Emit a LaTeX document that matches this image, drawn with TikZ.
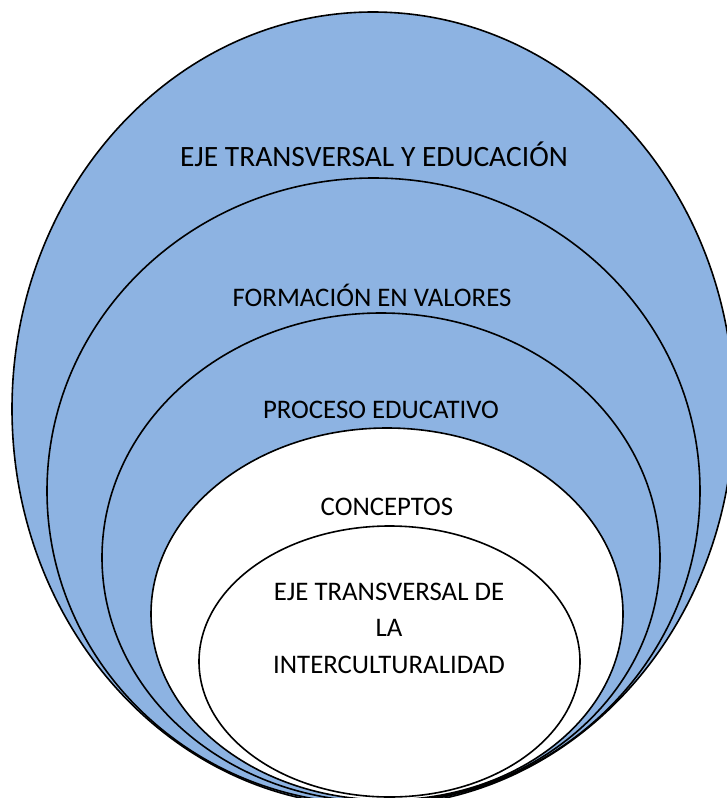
\documentclass[tikz,border=0pt]{standalone}
\usepackage{fontspec}
\setmainfont{Carlito}
\definecolor{ringblue}{HTML}{8DB3E2}

\begin{document}
\begin{tikzpicture}[x=1pt,y=-1pt,
ring/.style={draw=black, line width=1.6pt},
txtnode/.style={font=\fontsize{26.8}{36.5}\selectfont, align=center, inner sep=0pt}
]
\useasboundingbox (0,0) rectangle (727,798);
\clip (0,0) rectangle (727,798);

%Ellipses
\filldraw[ring, fill=ringblue] (373,409) ellipse [x radius=361pt, y radius=397pt];
\filldraw[ring, fill=ringblue] (373.5,491) ellipse [x radius=326.5pt, y radius=313pt];
\filldraw[ring, fill=ringblue] (381,557.5) ellipse [x radius=279pt, y radius=244.5pt];
\filldraw[ring, fill=white] (387,614) ellipse [x radius=236pt, y radius=186pt];
\filldraw[ring, fill=white] (389.5,661.5) ellipse [x radius=190.5pt, y radius=135.5pt];

%Nodes
\node[txtnode, font=\fontsize{29.5}{37}\selectfont] (eje) at (374,154) {EJE TRANSVERSAL Y EDUCACIÓN};
\node[txtnode] (valores) at (372,295) {FORMACIÓN EN VALORES};
\node[txtnode] (proceso) at (381,410) {PROCESO EDUCATIVO};
\node[txtnode] (conceptos) at (387,507) {CONCEPTOS};
\node[txtnode] (inter) at (389,628) {EJE TRANSVERSAL DE\\LA\\INTERCULTURALIDAD};

\end{tikzpicture}
\end{document}
